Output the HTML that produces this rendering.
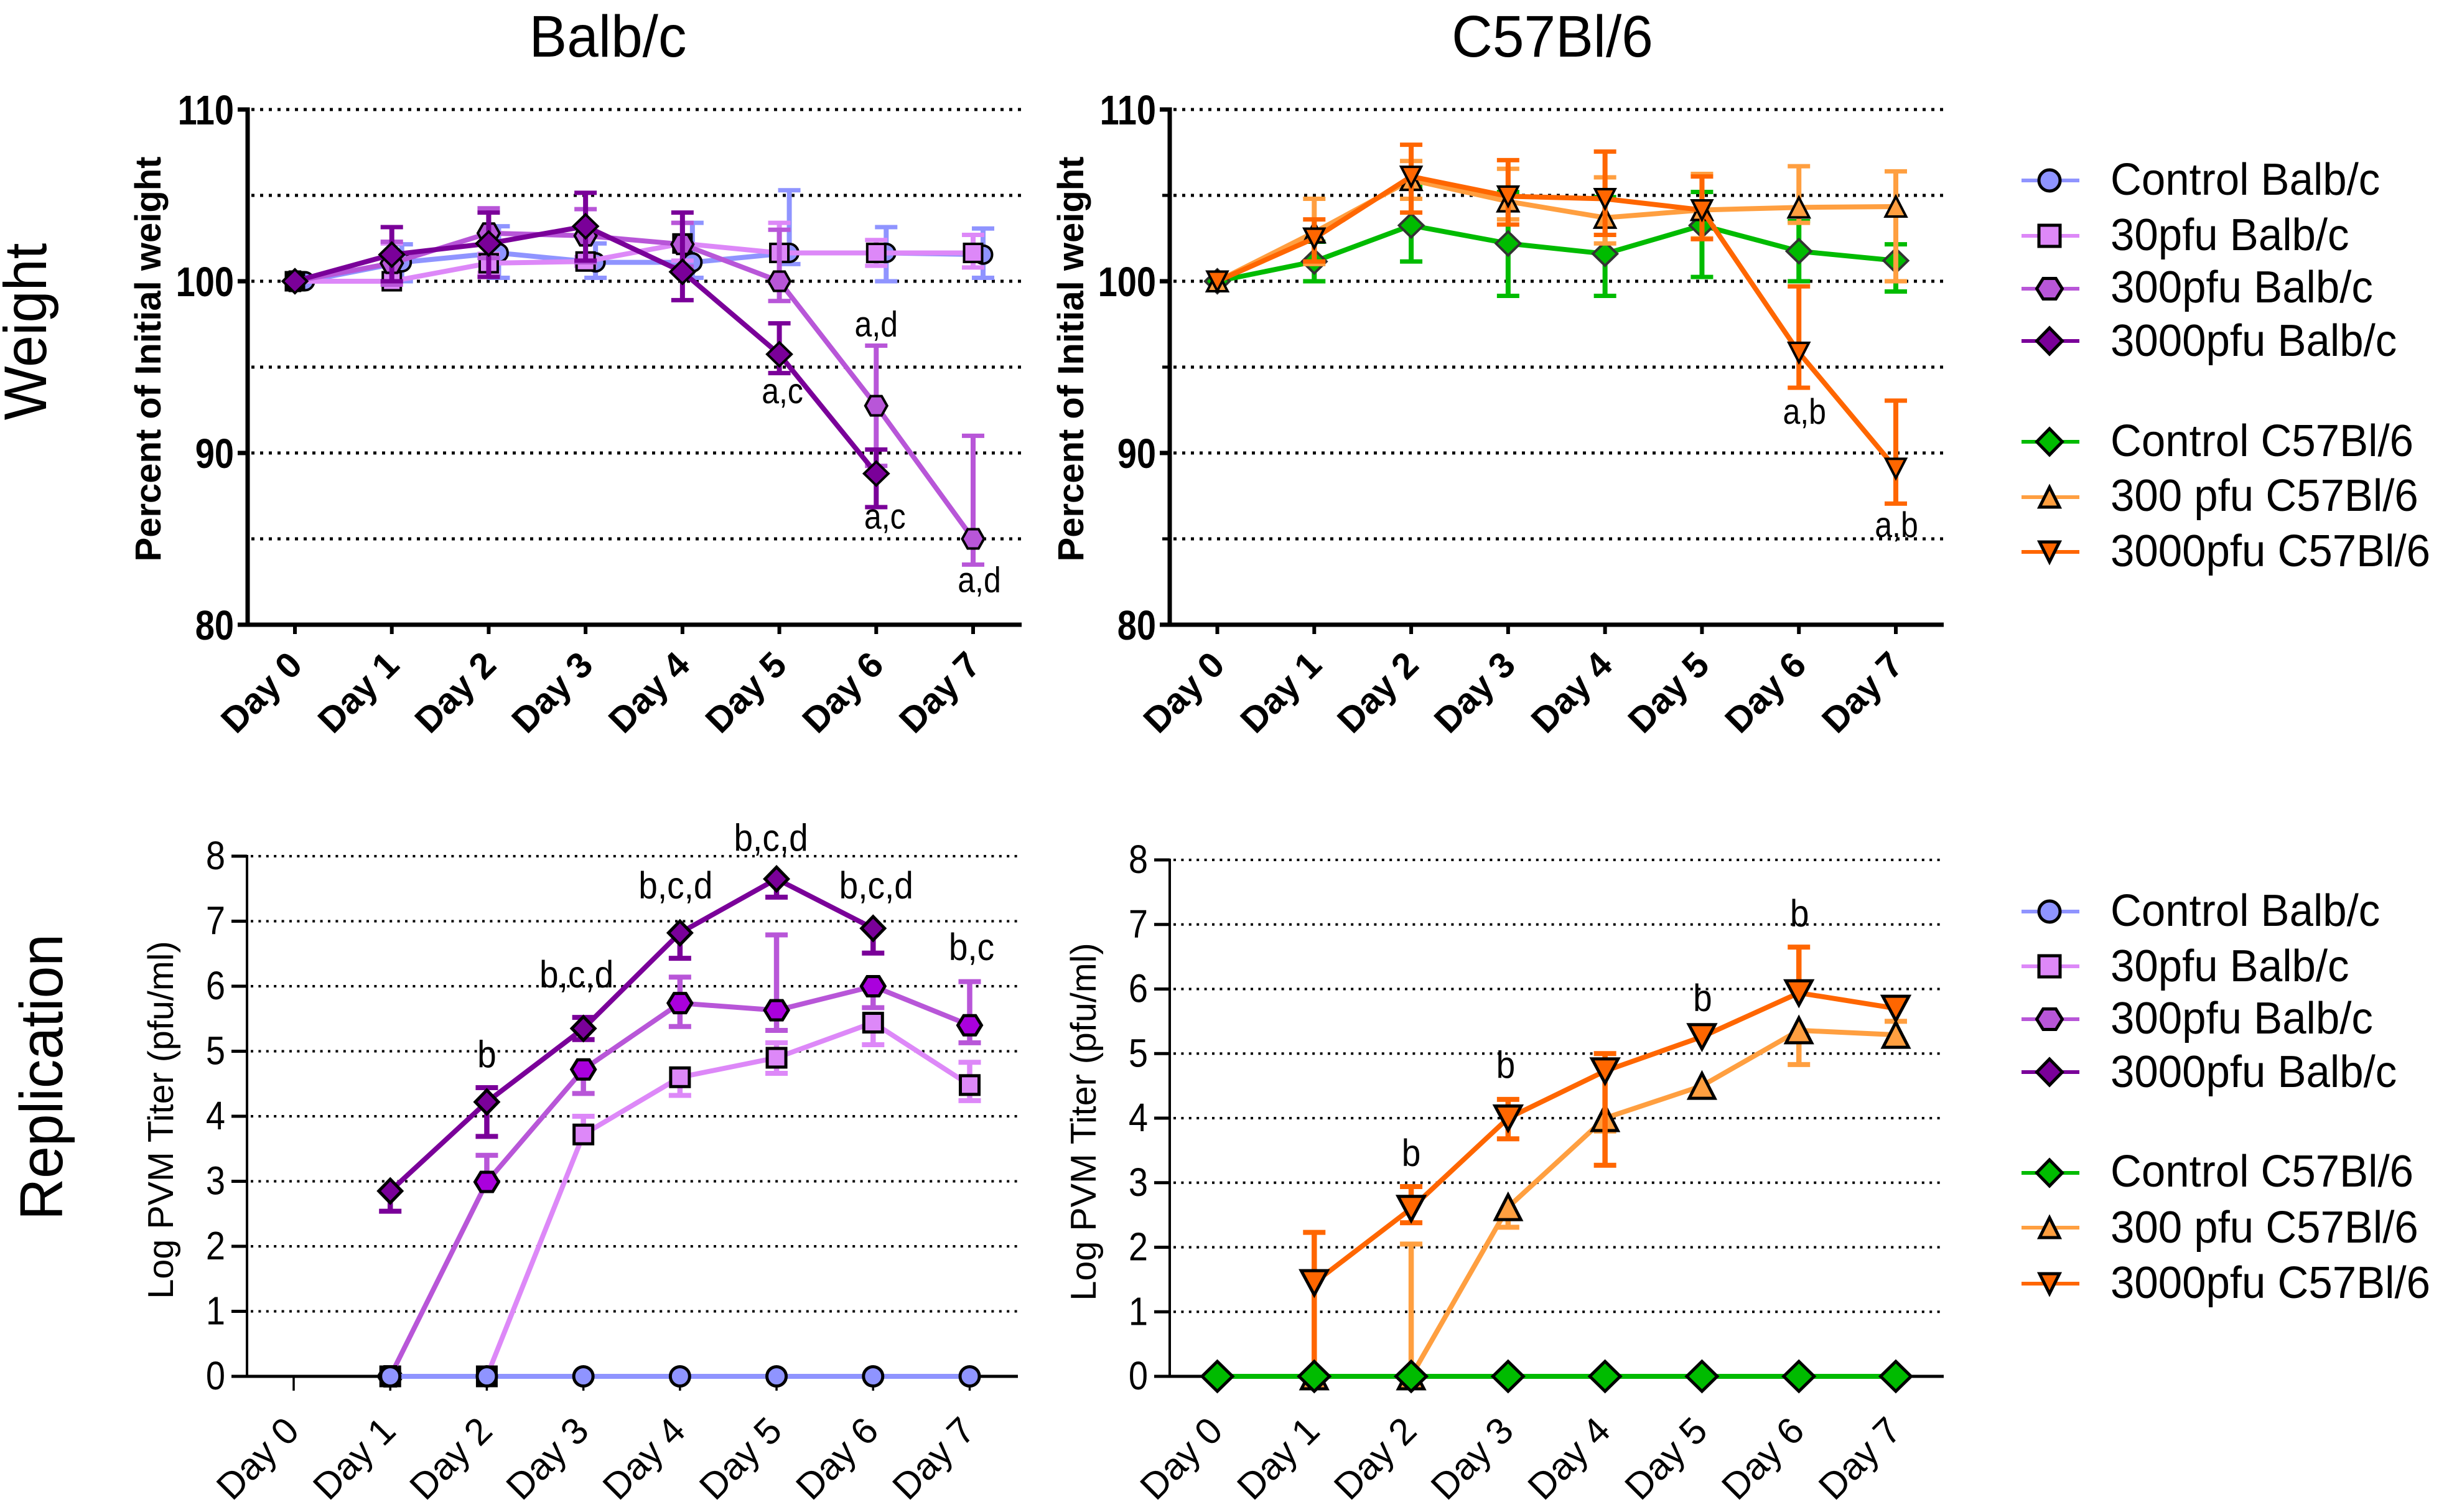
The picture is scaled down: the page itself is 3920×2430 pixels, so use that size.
<!DOCTYPE html>
<html lang="en">
<head>
<meta charset="utf-8">
<title>Weight and PVM replication in Balb/c and C57Bl/6 mice</title>
<style>
html,body{margin:0;padding:0;background:#fff;}
svg{display:block;font-family:"Liberation Sans",Arial,sans-serif;}
</style>
</head>
<body>
<svg id="figure" xmlns="http://www.w3.org/2000/svg" width="3920" height="2430" viewBox="0 0 3920 2430">
<rect x="0" y="0" width="3920" height="2430" fill="#ffffff"/>
<text transform="translate(977 91) scale(1 1.04)" font-size="91" text-anchor="middle">Balb/c</text>
<text transform="translate(2495 91) scale(1 1.04)" font-size="91" text-anchor="middle">C57Bl/6</text>
<text transform="translate(74 533) rotate(-90) scale(1 1.05)" font-size="92" text-anchor="middle">Weight</text>
<text transform="translate(100 1731) rotate(-90) scale(1 1.05)" font-size="93" text-anchor="middle">Replication</text>
</svg>
<script>
// ---- shared categories ----
const days = ["Day 0","Day 1","Day 2","Day 3","Day 4","Day 5","Day 6","Day 7"];
const weightTicks = [80,90,100,110];
const weightGrid = [85,90,95,100,105,110];
const titerTicks = [0,1,2,3,4,5,6,7,8];
const titerGrid = [1,2,3,4,5,6,7,8];

// ---- Weight, Balb/c ----
const wbControl     = [100,101.1,101.65,101.1,101.1,101.65,101.65,101.55];
const wbControlUp   = [null,102.15,103.2,102.2,103.4,105.3,103.15,103.07];
const wbControlLow  = [null,100,100.2,100.2,100.2,101,100,100.2];
const wb30          = [100,100,101.05,101.15,102.2,101.65,101.65,101.65];
const wb30Up        = [null,102.2,101.6,101.4,103.4,103.4,102.4,102.7];
const wb30Low       = [null,99.9,100.5,100.9,101.2,99.9,100.9,100.8];
const wb300         = [100,101.05,102.8,102.65,102.15,100,92.75,85];
const wb300Up       = [null,102.3,104.25,104.2,103.4,103,96.25,91];
const wb300Low      = [null,99.8,101.35,101.1,100.85,98.85,89.25,83.5];
const wb3000        = [100,101.55,102.2,103.2,100.55,95.75,88.8,null];
const wb3000Up      = [null,103.15,104,105.15,104,97.55,90.2,null];
const wb3000Low     = [null,100,100.25,101.2,98.9,94.65,86.85,null];

// ---- Weight, C57Bl/6 ----
const wcControl     = [100,101.15,103.25,102.2,101.6,103.25,101.75,101.2];
const wcControlUp   = [null,102.3,105.5,105.2,104.9,105.2,103.5,102.15];
const wcControlLow  = [null,100,101.15,99.15,99.15,100.25,100,99.4];
const wc300         = [100,102.85,105.9,104.65,103.7,104.15,104.3,104.35];
const wc300Up       = [null,104.8,107,106.55,106.05,106.25,106.7,106.4];
const wc300Low      = [null,101.0,104.8,103.6,102.2,102.5,103.4,100];
const wc3000        = [100,102.5,106.1,104.95,104.8,104.15,95.85,89.1];
const wc3000Up      = [null,103.6,107.95,107.05,107.55,106.1,99.7,93.05];
const wc3000Low     = [null,101.15,104,103.3,102.7,102.45,93.8,87.05];

// ---- Replication, Balb/c ----
const tbControl     = [null,0,0,0,0,0,0,0];
const tb30          = [null,0,0,3.72,4.6,4.9,5.44,4.48];
const tb30Up        = [null,null,null,4.0,null,5.13,null,4.83];
const tb30Low       = [null,null,null,null,4.32,4.66,5.1,4.24];
const tb300         = [null,0,2.99,4.72,5.74,5.63,6.0,5.4];
const tb300Up       = [null,null,3.4,null,6.14,6.79,null,6.07];
const tb300Low      = [null,null,null,4.35,5.38,5.32,5.67,5.13];
const tb3000        = [null,2.85,4.22,5.35,6.82,7.65,6.89,null];
const tb3000Up      = [null,null,4.44,5.52,null,null,null,null];
const tb3000Low     = [null,2.54,3.69,5.18,6.43,7.37,6.51,null];

// ---- Replication, C57Bl/6 ----
const tcControl     = [0,0,0,0,0,0,0,0];
const tc300         = [null,0,0,2.62,4.0,4.5,5.36,5.29];
const tc300Up       = [null,null,2.05,null,null,null,null,5.5];
const tc300Low      = [null,null,0,2.31,3.8,null,4.83,null];
const tc3000        = [null,1.45,2.6,4.0,4.73,5.26,5.94,5.7];
const tc3000Up      = [null,2.23,2.94,4.29,5.0,null,6.65,null];
const tc3000Low     = [null,0,2.38,3.68,3.27,null,null,null];

// ---- annotation labels ----
const wbNotes = ["a,d","a,c","a,c","a,d"];
const wcNotes = ["a,b","a,b"];
const tbNotes = ["b","b,c,d","b,c,d","b,c,d","b,c,d","b,c"];
const tcNotes = ["b","b","b","b"];

// ---- legend labels ----
const legendLabels = ["Control Balb/c","30pfu Balb/c","300pfu Balb/c","3000pfu Balb/c","Control C57Bl/6","300 pfu C57Bl/6","3000pfu C57Bl/6"];

// ---- styles ----
const C = {control:"#8F94FF",p30:"#DD88F8",p300:"#B856D8",p3000:"#7A0099",green:"#00BB00",o300:"#FF9F40",o3000:"#FF6600"};
const SIZE_TOP = {circle:[33,33],square:[33,33],diamond:[43,42],hexagon:[39,35],up:[37,36],down:[36,35]};
const SIZE_BOT = {circle:[36,36],square:[35,35],diamond:[42,43],hexagon:[43,36],up:[46,45],down:[47,44]};
const SIZE_BIG_GREEN = {diamond:[54,53]};
const SIZE_LEG = {circle:[39,39],square:[39,39],diamond:[46,47],hexagon:[46,38],up:[37,37],down:[37,37]};

const svg = document.getElementById('figure');
const NS = 'http://www.w3.org/2000/svg';

function make(tag, attrs, parent){
  const e = document.createElementNS(NS, tag);
  for (const k in attrs) e.setAttribute(k, attrs[k]);
  parent.appendChild(e);
  return e;
}

function markerShape(shape, cx, cy, size, fill, stroke, sw, parent){
  const w = size[shape][0] - sw, h = size[shape][1] - sw;
  const st = {fill:fill, stroke:stroke, 'stroke-width':sw, 'stroke-linejoin':'miter'};
  let attrs, tag;
  if (shape === 'circle'){
    tag = 'ellipse';
    attrs = {cx:cx, cy:cy, rx:w/2, ry:h/2};
  } else if (shape === 'square'){
    tag = 'rect';
    attrs = {x:cx-w/2, y:cy-h/2, width:w, height:h};
  } else {
    tag = 'polygon';
    let p;
    if (shape === 'diamond') p = [[0,-h/2],[w/2,0],[0,h/2],[-w/2,0]];
    if (shape === 'hexagon') p = [[-w/4,-h/2],[w/4,-h/2],[w/2,0],[w/4,h/2],[-w/4,h/2],[-w/2,0]];
    if (shape === 'up') p = [[0,-h/2],[w/2,h/2],[-w/2,h/2]];
    if (shape === 'down') p = [[-w/2,-h/2],[w/2,-h/2],[0,h/2]];
    attrs = {points:p.map(q => (cx+q[0])+','+(cy+q[1])).join(' ')};
  }
  const e = make(tag, Object.assign(attrs, st), parent);
  
  
  return e;
}

function drawPanel(p){
  const g = make('g', {}, svg);
  
  

  const xScale = i => p.x0 + i * (p.x7 - p.x0) / (days.length - 1);
  const yScale = v => p.yBottom + (v - p.vMin) * (p.yTop - p.yBottom) / (p.vMax - p.vMin);

  // gridlines
  p.grid.forEach(v => {
    const l = make('line', {x1:p.left + 6, x2:p.right, y1:yScale(v), y2:yScale(v), stroke:'#000', 'stroke-width':p.gridWidth, 'stroke-dasharray':p.gridDash}, g);
    
    
  });

  // y axis and ticks
  const ya = make('line', {x1:p.left, x2:p.left, y1:p.yTop - p.yAxisWidth/2, y2:p.yBottom + p.xAxisWidth/2, stroke:'#000', 'stroke-width':p.yAxisWidth}, g);
  
  
  const xa = make('line', {x1:p.left - p.tickLen, x2:p.right, y1:p.yBottom, y2:p.yBottom, stroke:'#000', 'stroke-width':p.xAxisWidth}, g);
  
  

  p.ticks.forEach(v => {
    const t = make('line', {x1:p.left - p.tickLen, x2:p.left, y1:yScale(v), y2:yScale(v), stroke:'#000', 'stroke-width':p.xAxisWidth}, g);
    
    
    const lab = make('text', {transform:'translate(' + (p.left - p.labelGap) + ' ' + (yScale(v) + p.tickBase) + ') scale(' + p.tickScale + ')', 'font-size':p.tickFont, 'font-weight':p.weight, 'text-anchor':'end'}, g);
    lab.textContent = v;
    
    
  });
  (p.minorTicks || []).forEach(v => {
    const t = make('line', {x1:p.left - 12, x2:p.left, y1:yScale(v), y2:yScale(v), stroke:'#000', 'stroke-width':5}, g);
    
    
  });

  days.forEach((d, i) => {
    const t = make('line', {x1:xScale(i), x2:xScale(i), y1:p.yBottom, y2:p.yBottom + p.xTickLen, stroke:'#000', 'stroke-width':p.xTickWidth}, g);
    
    
    const ax = xScale(i) + p.xLabelDx, ay = p.yBottom + p.xLabelDy;
    const lab = make('text', {transform:'translate(' + ax + ' ' + ay + ') rotate(-45)', 'font-size':p.xFont, 'font-weight':p.weight, 'text-anchor':'end'}, g);
    lab.textContent = d;
    
    
  });

  // y axis title
  const yt = make('text', {transform:'translate(' + p.titleX + ' ' + p.titleY + ') rotate(-90)', 'font-size':p.titleFont, 'font-weight':p.weight, 'text-anchor':'middle'}, g);
  yt.textContent = p.title;
  
  

  // series
  p.series.forEach(s => {
    const sg = make('g', {}, g);
    
    
    const dx = s.dx || 0;
    s.mean.forEach((m, i) => {
      if (m === null) return;
      const x = xScale(i) + dx;
      [s.up, s.low].forEach(arr => {
        if (!arr || arr[i] === null || arr[i] === undefined) return;
        const stem = make('line', {x1:x, x2:x, y1:yScale(m), y2:yScale(arr[i]), stroke:s.color, 'stroke-width':p.barWidth}, sg);
        
        
        const cap = make('line', {x1:x - p.capHalf, x2:x + p.capHalf, y1:yScale(arr[i]), y2:yScale(arr[i]), stroke:s.color, 'stroke-width':p.capWidth}, sg);
        
        
      });
    });
    let pts = [];
    const flush = () => {
      if (pts.length > 1){
        const pl = make('polyline', {points:pts.join(' '), fill:'none', stroke:s.color, 'stroke-width':p.lineWidth, 'stroke-linejoin':'miter'}, sg);
        
        
      }
      pts = [];
    };
    s.mean.forEach((m, i) => {
      if (m === null) { flush(); return; }
      pts.push((xScale(i) + dx) + ',' + yScale(m));
    });
    flush();
    s.mean.forEach((m, i) => {
      if (m === null) return;
      markerShape(s.shape, xScale(i) + dx, yScale(m), s.size || p.size, s.fill || s.color, s.stroke || '#000', p.markerStroke, sg);
    });
  });

  // annotations
  p.notes.forEach((txt, i) => {
    const a = p.noteAnchors[i];
    const n = make('text', {transform:'translate(' + (xScale(a[0]) + a[1]) + ' ' + yScale(a[2]) + ') scale(1 ' + p.noteStretch + ')', 'font-size':p.noteFont, 'text-anchor':'middle'}, g);
    n.textContent = txt;
    
    
  });
}

const topStyle = {vMin:80, vMax:110, yTop:176, yBottom:1004, yAxisWidth:7, xAxisWidth:7, xTickWidth:6, tickLen:16, labelGap:22, xTickLen:15, tickFont:56, tickScale:'1 1.2', tickBase:24, weight:'bold', xFont:58, xLabelDx:15, xLabelDy:68, gridWidth:5, gridDash:'5 9', barWidth:8, capWidth:7, capHalf:18, lineWidth:8, markerStroke:4, size:SIZE_TOP, noteFont:50, noteStretch:1.15, grid:weightGrid, ticks:weightTicks, title:'Percent of Initial weight', titleY:577, titleFont:58};
const botStyle = {vMin:0, vMax:8, yAxisWidth:4, xAxisWidth:5, xTickWidth:3.5, tickLen:25, labelGap:35, xTickLen:23, tickFont:56, tickScale:'1 1.14', tickBase:21, weight:'normal', xFont:60, xLabelDx:12, xLabelDy:91, gridWidth:4, gridDash:'4 8.4', barWidth:8.5, capWidth:8, capHalf:18, lineWidth:8, markerStroke:5, size:SIZE_BOT, noteFont:55, noteStretch:1.12, grid:titerGrid, ticks:titerTicks, title:'Log PVM Titer (pfu/ml)', titleFont:57.5};

drawPanel(Object.assign({}, topStyle, {
  name:'weight-balb-c-chart', left:398, right:1642, x0:474, x7:1564, titleX:258,
  series:[
    {id:'control-balb-c', shape:'circle', color:C.control, mean:wbControl, up:wbControlUp, low:wbControlLow, dx:16},
    {id:'30pfu-balb-c', shape:'square', color:C.p30, mean:wb30, up:wb30Up, low:wb30Low},
    {id:'300pfu-balb-c', shape:'hexagon', color:C.p300, mean:wb300, up:wb300Up, low:wb300Low},
    {id:'3000pfu-balb-c', shape:'diamond', color:C.p3000, mean:wb3000, up:wb3000Up, low:wb3000Low}
  ],
  notes:wbNotes,
  noteAnchors:[[6,0,96.8],[5,5,92.9],[6,14,85.6],[7,10,81.9]]
}));

drawPanel(Object.assign({}, topStyle, {
  name:'weight-c57bl-6-chart', left:1880, right:3124, x0:1956.5, x7:3047, titleX:1741, minorTicks:[85,95,105],
  series:[
    {id:'control-c57bl-6', shape:'diamond', color:C.green, stroke:'#333333', mean:wcControl, up:wcControlUp, low:wcControlLow},
    {id:'300pfu-c57bl-6', shape:'up', color:C.o300, mean:wc300, up:wc300Up, low:wc300Low},
    {id:'3000pfu-c57bl-6', shape:'down', color:C.o3000, mean:wc3000, up:wc3000Up, low:wc3000Low}
  ],
  notes:wcNotes,
  noteAnchors:[[6,9,91.7],[7,1,85.1]]
}));

drawPanel(Object.assign({}, botStyle, {
  name:'replication-balb-c-chart', left:397, right:1636, x0:472, x7:1558.5, yTop:1376, yBottom:2212, titleX:278, titleY:1800,
  series:[
    {id:'30pfu-balb-c', shape:'square', color:C.p30, mean:tb30, up:tb30Up, low:tb30Low},
    {id:'300pfu-balb-c', shape:'hexagon', color:C.p300, fill:'#AA00DD', mean:tb300, up:tb300Up, low:tb300Low},
    {id:'3000pfu-balb-c', shape:'diamond', color:C.p3000, mean:tb3000, up:tb3000Up, low:tb3000Low},
    {id:'control-balb-c', shape:'circle', color:C.control, mean:tbControl}
  ],
  notes:tbNotes,
  noteAnchors:[[2,0,4.75],[3,-11,5.98],[4,-7,7.35],[5,-9,8.08],[6,5,7.35],[7,3,6.4]]
}));

drawPanel(Object.assign({}, botStyle, {
  name:'replication-c57bl-6-chart', left:1880, right:3124, x0:1956.5, x7:3047, yTop:1382, yBottom:2212, titleX:1761, titleY:1803,
  series:[
    {id:'300pfu-c57bl-6', shape:'up', color:C.o300, mean:tc300, up:tc300Up, low:tc300Low},
    {id:'3000pfu-c57bl-6', shape:'down', color:C.o3000, mean:tc3000, up:tc3000Up, low:tc3000Low},
    {id:'control-c57bl-6', shape:'diamond', color:C.green, mean:tcControl, size:SIZE_BIG_GREEN}
  ],
  notes:tcNotes,
  noteAnchors:[[2,0,3.26],[3,-4,4.62],[5,1,5.66],[6,1,6.97]]
}));

// ---- legends ----
const legendShapes = ['circle','square','hexagon','diamond','diamond','up','down'];
const legendColors = [C.control,C.p30,C.p300,C.p3000,C.green,C.o300,C.o3000];
const legendRowsTop = [290,379,464,548,710,799,887];
const legendBaseTop = [313,402,486,572,733,821,910];
const legendRowsBot = [1465,1553,1638,1723,1885,1973,2063];
const legendBaseBot = [1488,1577,1661,1747,1907,1997,2086];

function drawLegend(name, rows, bases){
  const g = make('g', {}, svg);
  
  
  legendLabels.forEach((label, i) => {
    const eg = make('g', {}, g);
    
    
    const l = make('line', {x1:3249, x2:3342, y1:rows[i], y2:rows[i], stroke:legendColors[i], 'stroke-width':6}, eg);
    
    
    markerShape(legendShapes[i], 3294, rows[i], SIZE_LEG, legendColors[i], '#000', 5, eg);
    const t = make('text', {transform:'translate(3392 ' + bases[i] + ') scale(1 1.05)', 'font-size':69}, eg);
    t.textContent = label;
    
    
  });
}
drawLegend('legend-weight', legendRowsTop, legendBaseTop);
drawLegend('legend-replication', legendRowsBot, legendBaseBot);
</script>
</body>
</html>
